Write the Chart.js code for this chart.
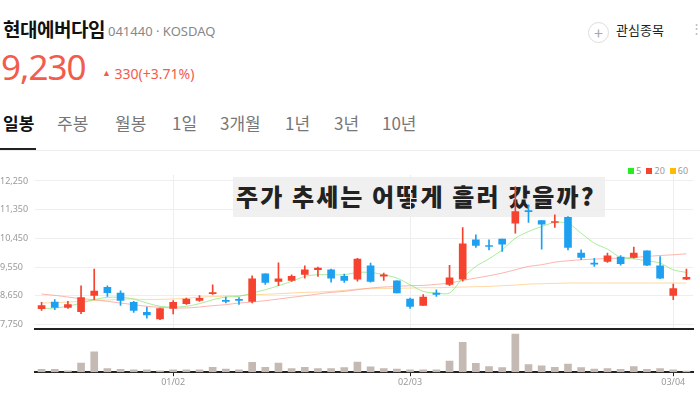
<!DOCTYPE html>
<html><head><meta charset="utf-8">
<script src="https://cdn.jsdelivr.net/npm/chart.js@4.4.1/dist/chart.umd.min.js"></script>
<style>
body{margin:0;width:700px;height:400px;overflow:hidden;background:#fff;font-family:"Noto Sans CJK KR","Noto Sans",sans-serif;position:relative}
.abs{position:absolute;white-space:nowrap}
#c1,#c2{position:absolute;left:0}
</style></head><body>
<div class="abs" style="left:3px;top:15px;font-size:19px;font-weight:bold;color:#111;letter-spacing:-0.5px">현대에버다임</div>
<div class="abs" style="left:108px;top:22px;font-size:13px;color:#888;font-family:'Noto Sans',sans-serif">041440 · KOSDAQ</div>
<div class="abs" style="left:588px;top:22px;width:19px;height:19px;border:1px solid #ddd;border-radius:50%;color:#aaa;font-size:16px;line-height:18px;text-align:center">+</div>
<div class="abs" style="left:616px;top:20px;font-size:13px;color:#222">관심종목</div>
<div class="abs" style="left:690px;top:18px;font-size:13px;color:#bbb">⋮</div>
<div class="abs" style="left:1px;top:43px;font-size:35px;color:#f25c4c;font-family:'Noto Sans',sans-serif;letter-spacing:-1px">9,230</div>
<div class="abs" style="left:102px;top:64px;font-size:14px;color:#f25c4c;font-family:'Noto Sans',sans-serif"><span style="font-size:9px;vertical-align:3px">▲</span> 330(+3.71%)</div>
<div class="abs" style="left:3px;top:110px;font-size:17px;color:#111;font-weight:bold">일봉</div>
<div class="abs" style="left:57px;top:110px;font-size:17px;color:#777">주봉</div>
<div class="abs" style="left:115px;top:110px;font-size:17px;color:#777">월봉</div>
<div class="abs" style="left:172px;top:110px;font-size:17px;color:#777">1일</div>
<div class="abs" style="left:220px;top:110px;font-size:17px;color:#777">3개월</div>
<div class="abs" style="left:285px;top:110px;font-size:17px;color:#777">1년</div>
<div class="abs" style="left:334px;top:110px;font-size:17px;color:#777">3년</div>
<div class="abs" style="left:382px;top:110px;font-size:17px;color:#777">10년</div>
<div class="abs" style="left:0;top:148px;width:36px;height:2px;background:#222"></div>
<div class="abs" style="left:0;top:150px;width:700px;height:1px;background:#eee"></div>
<div class="abs" style="left:233px;top:177px;width:372px;height:40px;background:#f0f0f0"></div>
<div class="abs" style="left:236px;top:178px;font-size:24px;font-weight:900;color:#222;letter-spacing:2.1px">주가 추세는 어떻게 흘러 갔을까?</div>
<div class="abs" style="left:628px;top:164px;font-size:9px;color:#999;font-family:'Noto Sans',sans-serif">
<span style="display:inline-block;width:6px;height:6px;background:#22ee22"></span> 5 &nbsp;<span style="display:inline-block;width:6px;height:6px;background:#f5432f"></span> 20 &nbsp;<span style="display:inline-block;width:6px;height:6px;background:#ffbb00"></span> 60</div>
<canvas id="c1" width="700" height="178" style="top:160px;width:700px;height:178px"></canvas>
<canvas id="c2" width="700" height="56" style="top:333px;width:700px;height:56px"></canvas>
<script>
const categories=["12/17","12/18","12/19","12/20","12/23","12/24","12/26","12/27","12/30","12/31","01/02","01/03","01/06","01/07","01/08","01/09","01/10","01/13","01/14","01/15","01/16","01/17","01/20","01/21","01/22","01/23","01/28","01/31","02/03","02/04","02/05","02/06","02/07","02/10","02/11","02/12","02/13","02/14","02/17","02/18","02/19","02/20","02/21","02/24","02/25","02/26","02/27","02/28","03/04","03/05"];
const tickLabels=["01/02","02/03","03/04"];
const priceTicks=[7750,8650,9550,10450,11350,12250];
const openP=[8250,8458,8291,8156,8666,8916,8739,8448,8135,7927,8260,8406,8510,8718,8510,8541,8479,9343,9104,9135,9323,9468,9468,9260,9177,9593,9270,9125,8552,8354,8739,9010,9177,10406,10229,10427,10927,11323,11010,10948,11114,9989,9677,9729,9864,9854,10062,9593,8666,9177];
const closeP=[8343,8291,8375,8593,8802,8750,8510,8198,8052,8250,8448,8552,8573,8750,8479,8510,9187,9073,9187,9260,9468,9520,9208,9135,9802,9104,9312,8739,8323,8614,8698,9218,10281,10229,10198,10271,11291,11291,10896,10979,10166,9854,9646,9906,9656,9989,9614,9208,8875,9230];
const highP=[8448,8531,8479,8968,9489,8968,8812,8479,8302,8270,8500,8583,8656,9000,8614,8593,9281,9343,9687,9312,9593,9552,9489,9333,9823,9677,9364,9125,8583,8687,8843,9604,10791,10562,10406,10427,12073,11500,11010,11187,11135,10093,9823,9989,9916,10177,10062,9885,9020,9489];
const lowP=[8198,8218,8260,8093,8531,8635,8354,8135,7948,7906,8083,8385,8479,8698,8427,8385,8427,9010,8968,9104,9208,9260,9083,9073,9114,9083,9135,8739,8260,8354,8635,8968,9114,10166,10093,10041,10614,10948,10114,10791,10093,9781,9573,9698,9614,9833,9593,9187,8531,9156];
const ma5=[8250,8270,8323,8427,8531,8604,8604,8552,8427,8323,8302,8323,8406,8531,8614,8635,8739,8843,8968,9104,9260,9312,9312,9312,9385,9385,9312,9208,8999,8791,8739,8739,9208,9573,9812,10093,10458,10666,10823,10948,10927,10614,10302,10114,9854,9812,9750,9677,9468,9385];
const ma20=[8708,8666,8614,8562,8531,8479,8427,8375,8323,8291,8271,8271,8302,8343,8375,8427,8458,8500,8552,8604,8656,8708,8760,8791,8843,8896,8927,8948,8969,8979,9010,9052,9135,9208,9281,9364,9468,9573,9625,9708,9750,9781,9802,9823,9833,9854,9885,9916,9937,9968];
const ma60=[8427,8437,8458,8479,8510,8521,8541,8552,8531,8541,8552,8573,8614,8625,8646,8656,8687,8698,8718,8739,8760,8770,8791,8823,8864,8875,8885,8885,8896,8906,8906,8916,8927,8937,8948,8969,8989,9020,9031,9041,9052,9052,9052,9052,9052,9052,9052,9052,9052,9052];
const volume=[8,8,4,26,58,10,8,7,7,4,7,7,7,14,9,7,28,14,26,10,14,10,10,13,29,15,10,9,7,7,7,32,85,25,16,13,109,22,18,14,23,13,9,10,8,16,8,10,7,3];

const UP='#f5432f',DN='#1ea0f0';
const col=categories.map((_,i)=>closeP[i]>=openP[i]?UP:DN);
const fitW=s=>{s.width=35;};
new Chart(document.getElementById('c1'),{
 data:{labels:categories,datasets:[
  {type:'line',data:ma5,borderColor:'rgba(130,230,110,0.7)',borderWidth:1,pointRadius:0,tension:0.3,order:3},
  {type:'line',data:ma20,borderColor:'rgba(250,150,140,0.7)',borderWidth:1,pointRadius:0,tension:0.3,order:3},
  {type:'line',data:ma60,borderColor:'rgba(255,200,120,0.7)',borderWidth:1,pointRadius:0,tension:0.3,order:3},
  {type:'bar',data:categories.map((_,i)=>[lowP[i],highP[i]]),backgroundColor:col,barThickness:1,grouped:false,order:2},
  {type:'bar',data:categories.map((_,i)=>[openP[i],closeP[i]]),backgroundColor:col,barThickness:7,minBarLength:1,grouped:false,borderSkipped:false,order:1}
 ]},
 options:{responsive:false,animation:false,devicePixelRatio:1,
  layout:{padding:{top:15,bottom:3,right:7,left:0}},
  plugins:{legend:{display:false},tooltip:{enabled:false}},
  scales:{
   x:{offset:true,ticks:{display:false},border:{display:true,color:'#222',width:2},
      grid:{offset:false,drawTicks:false,color:c=>tickLabels.includes(categories[c.index])?'#eeeeee':'rgba(0,0,0,0)'}},
   y:{min:7625,max:12437,afterFit:fitW,afterBuildTicks:s=>{s.ticks=priceTicks.map(v=>({value:v}));},
      border:{display:false},grid:{color:'#eeeeee',drawTicks:false},
      ticks:{crossAlign:'far',padding:4,color:'#999',font:{size:9,family:'Noto Sans'},callback:v=>v.toLocaleString('en-US')}}
  }}
});
new Chart(document.getElementById('c2'),{
 type:'bar',
 data:{labels:categories,datasets:[{data:volume,backgroundColor:'#c4b9b3',barThickness:7}]},
 options:{responsive:false,animation:false,devicePixelRatio:1,
  layout:{padding:{top:0,right:7,left:0,bottom:0}},
  plugins:{legend:{display:false},tooltip:{enabled:false}},
  scales:{
   x:{offset:true,border:{display:true,color:'#222',width:2},
      grid:{offset:false,drawOnChartArea:false,tickLength:4,color:c=>tickLabels.includes(categories[c.index])?'#222':'rgba(0,0,0,0)'},
      ticks:{autoSkip:false,maxRotation:0,padding:1,color:'#999',font:{size:9,family:'Noto Sans'},callback:(v,i)=>tickLabels.includes(categories[i])?categories[i]:''}},
   y:{min:0,max:112,afterFit:fitW,ticks:{display:false},grid:{display:false},border:{display:false}}
  }}
});
</script></body></html>
